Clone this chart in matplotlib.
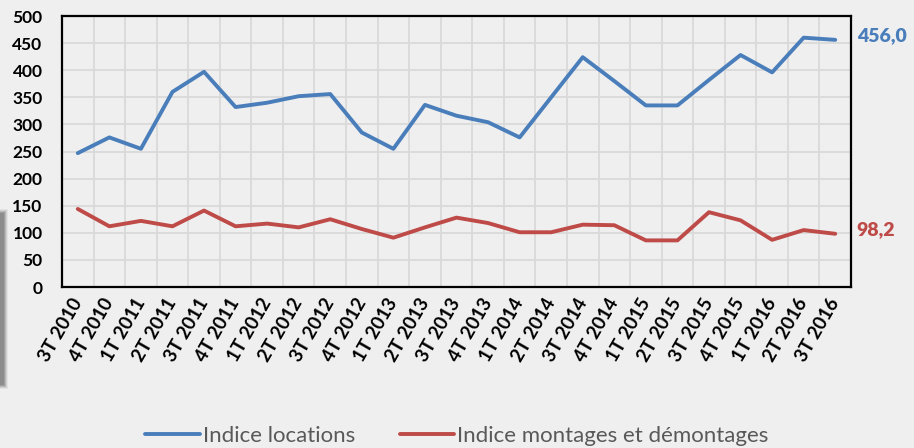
import matplotlib.pyplot as plt
from matplotlib.patches import Rectangle

# données
trimestres = ['3T 2010', '4T 2010', '1T 2011', '2T 2011', '3T 2011', '4T 2011', '1T 2012',
              '2T 2012', '3T 2012', '4T 2012', '1T 2013', '2T 2013', '3T 2013', '4T 2013',
              '1T 2014', '2T 2014', '3T 2014', '4T 2014', '1T 2015', '2T 2015', '3T 2015',
              '4T 2015', '1T 2016', '2T 2016', '3T 2016']
indice_locations = [247, 276, 255, 360, 397, 332, 340, 352, 356, 285, 255, 336, 316, 304,
                    276, 350, 424, 380, 335, 335, 382, 428, 396, 460, 456.0]
indice_montages = [144, 112, 122, 112, 141, 112, 117, 110, 125, 107, 91, 110, 128, 118,
                   101, 101, 115, 114, 86, 86, 138, 123, 87, 105, 98.2]

bleu = '#4a7ebb'
rouge = '#be4b48'
fond = '#efefef'

plt.rcParams['font.family'] = ['Lato', 'DejaVu Sans']

fig = plt.figure(figsize=(9.14, 4.48), dpi=100, facecolor=fond)
ax = fig.add_axes([62 / 914, 1 - 287 / 448, 789 / 914, 271 / 448])
ax.set_facecolor(fond)

x = list(range(len(trimestres)))
ax.plot(x, indice_locations, color=bleu, lw=2.8, solid_capstyle='round', label='Indice locations', zorder=3)
ax.plot(x, indice_montages, color=rouge, lw=2.8, solid_capstyle='round',
        label='Indice montages et démontages', zorder=3)

ax.set_xlim(-0.5, len(trimestres) - 0.5)
ax.set_ylim(0, 500)
ax.set_yticks(range(0, 501, 50))
ax.set_xticks(x)
ax.set_xticks([i - 0.5 for i in range(1, len(trimestres))], minor=True)
ax.set_xticklabels(trimestres, rotation=60, ha='right', va='center', rotation_mode='anchor',
                   fontsize=13.5, fontweight='bold')
for lab in ax.get_yticklabels():
    lab.set_fontweight('bold')
    lab.set_fontsize(12.5)
ax.tick_params(axis='both', which='both', length=0)
ax.tick_params(axis='y', pad=14)
ax.tick_params(axis='x', pad=9)
ax.grid(True, axis='y', which='major', color='#d9d9d9', lw=1.3)
ax.grid(True, axis='x', which='minor', color='#d9d9d9', lw=1.3)
ax.set_axisbelow(True)
for sp in ax.spines.values():
    sp.set_color('black')
    sp.set_linewidth(1.6)

# étiquettes de la dernière valeur
ax.annotate(f'{indice_locations[-1]:.1f}'.replace('.', ','), xy=(x[-1], indice_locations[-1]),
            xytext=(16, 3), textcoords='offset points', color=bleu, fontsize=14,
            fontweight='heavy', va='center', ha='left', annotation_clip=False)
ax.annotate(f'{indice_montages[-1]:.1f}'.replace('.', ','), xy=(x[-1], indice_montages[-1]),
            xytext=(15, 3), textcoords='offset points', color=rouge, fontsize=14,
            fontweight='heavy', va='center', ha='left', annotation_clip=False)

leg = fig.legend(loc='center', bbox_to_anchor=(0.5, 1 - 436 / 448), ncol=2, frameon=False,
                 fontsize=16, handlelength=2.45, handletextpad=0.15, columnspacing=2.0)
for t in leg.get_texts():
    t.set_color('#595959')

# ombre à gauche
for k, a in enumerate([0.10, 0.18, 0.28, 0.40, 0.5]):
    fig.patches.append(Rectangle((0, (448 - 383 - 6 + k) / 448), (8 - k) / 914, (168 + 12 - 2 * k) / 448,
                                 transform=fig.transFigure, facecolor='#7a7a7a', alpha=a,
                                 edgecolor='none'))

fig.savefig('out.png', dpi=100, facecolor=fond)
